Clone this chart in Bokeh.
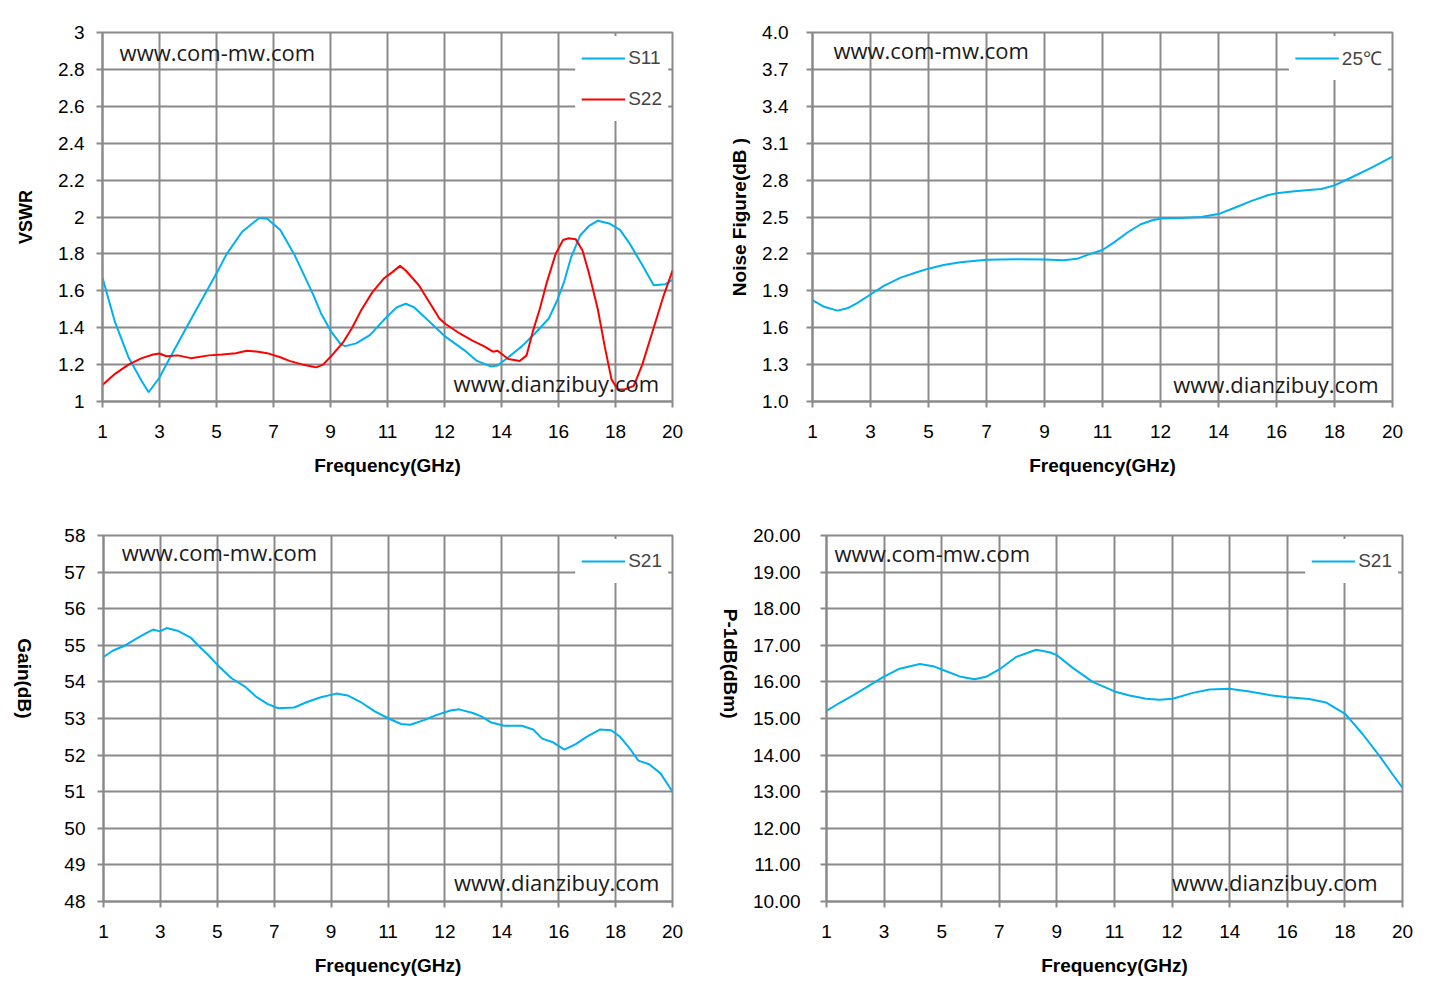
import math
from bokeh.plotting import figure
from bokeh.layouts import column, row
from bokeh.models import FixedTicker, Label, Legend, LegendItem, NumeralTickFormatter
from bokeh.embed import file_html
from bokeh.resources import INLINE

# ---------------- data ----------------
FREQ_LABELS = ["1", "3", "5", "7", "9", "11", "12", "14", "16", "18", "20"]

# x values are positions along the (equally spaced) frequency category axis
s11_x = [0, 0.22, 0.455, 0.69, 0.81, 1.0, 1.12, 1.47, 1.83, 2.01, 2.18, 2.45, 2.75, 2.89, 3.12,
         3.36, 3.59, 3.71, 3.83, 4.01, 4.18, 4.26, 4.45, 4.69, 4.93, 5.16, 5.32, 5.47, 5.71,
         6.02, 6.34, 6.57, 6.81, 6.93, 7.12, 7.36, 7.59, 7.83, 7.98, 8.1, 8.22, 8.38, 8.53,
         8.69, 8.89, 9.08, 9.24, 9.47, 9.67, 9.87, 10.0]
s11_y = [1.67, 1.43, 1.24, 1.11, 1.05, 1.13, 1.2, 1.4, 1.6, 1.7, 1.8, 1.92, 1.995, 1.99, 1.93,
         1.8, 1.65, 1.57, 1.48, 1.38, 1.31, 1.30, 1.315, 1.36, 1.44, 1.51, 1.53, 1.51, 1.44,
         1.35, 1.28, 1.22, 1.19, 1.195, 1.24, 1.3, 1.37, 1.45, 1.55, 1.65, 1.78, 1.9, 1.95,
         1.98, 1.965, 1.93, 1.86, 1.74, 1.63, 1.635, 1.66]

s22_x = [0, 0.22, 0.455, 0.69, 0.89, 1.0, 1.12, 1.32, 1.55, 1.87, 2.1, 2.34, 2.53, 2.73, 2.89,
         3.12, 3.28, 3.51, 3.67, 3.75, 3.87, 4.01, 4.22, 4.38, 4.53, 4.73, 4.93, 5.08, 5.22,
         5.32, 5.55, 5.71, 5.91, 6.02, 6.26, 6.49, 6.69, 6.85, 6.93, 7.12, 7.32, 7.44, 7.55,
         7.67, 7.79, 7.95, 8.08, 8.18, 8.3, 8.42, 8.53, 8.69, 8.81, 8.93, 9.04, 9.16, 9.32,
         9.47, 9.67, 9.83, 10.0]
s22_y = [1.09, 1.15, 1.2, 1.235, 1.255, 1.26, 1.245, 1.25, 1.235, 1.25, 1.255, 1.262, 1.275,
         1.27, 1.262, 1.24, 1.22, 1.2, 1.19, 1.185, 1.2, 1.245, 1.32, 1.4, 1.49, 1.59, 1.665,
         1.7, 1.735, 1.71, 1.63, 1.55, 1.45, 1.42, 1.37, 1.33, 1.3, 1.27, 1.275, 1.23, 1.22,
         1.25, 1.38, 1.5, 1.64, 1.8, 1.875, 1.885, 1.88, 1.82, 1.7, 1.5, 1.3, 1.12, 1.065,
         1.065, 1.085, 1.2, 1.4, 1.56, 1.71]

nf_x = [0, 0.2, 0.43, 0.6, 0.77, 1.0, 1.23, 1.52, 1.81, 2.0, 2.26, 2.55, 3.0, 3.53, 4.0, 4.33,
        4.56, 4.79, 5.0, 5.2, 5.43, 5.66, 5.86, 6.01, 6.35, 6.7, 7.02, 7.28, 7.56, 7.85, 8.0,
        8.31, 8.77, 9.0, 9.29, 9.64, 10.0]
nf_y = [1.825, 1.77, 1.739, 1.758, 1.80, 1.87, 1.94, 2.007, 2.053, 2.08, 2.109, 2.133, 2.152,
        2.157, 2.154, 2.149, 2.16, 2.2, 2.232, 2.294, 2.374, 2.441, 2.473, 2.487, 2.492, 2.5,
        2.527, 2.575, 2.629, 2.677, 2.693, 2.709, 2.728, 2.757, 2.821, 2.902, 2.99]

gain_x = [0, 0.16, 0.36, 0.6, 0.75, 0.87, 0.99, 1.11, 1.3, 1.54, 1.66, 1.85, 2.01, 2.25, 2.48,
          2.68, 2.88, 3.07, 3.35, 3.58, 3.82, 4.09, 4.29, 4.52, 4.76, 5.01, 5.23, 5.39, 5.62,
          5.86, 6.1, 6.25, 6.49, 6.65, 6.8, 7.04, 7.35, 7.55, 7.71, 7.9, 8.1, 8.3, 8.49, 8.73,
          8.92, 9.08, 9.24, 9.4, 9.59, 9.79, 10.0]
gain_y = [54.68, 54.85, 54.98, 55.2, 55.33, 55.43, 55.38, 55.47, 55.4, 55.2, 55.0, 54.72, 54.45,
          54.1, 53.88, 53.6, 53.4, 53.28, 53.3, 53.45, 53.58, 53.68, 53.63, 53.45, 53.2, 53.0,
          52.85, 52.83, 52.95, 53.1, 53.22, 53.25, 53.15, 53.05, 52.9, 52.8, 52.8, 52.7, 52.45,
          52.35, 52.15, 52.3, 52.5, 52.7, 52.68, 52.5, 52.2, 51.85, 51.75, 51.5, 51.0]

p1_x = [0, 0.23, 0.46, 0.69, 0.99, 1.27, 1.62, 1.85, 2.0, 2.31, 2.57, 2.77, 3.0, 3.29, 3.64,
        3.87, 4.0, 4.27, 4.62, 5.0, 5.26, 5.55, 5.78, 6.01, 6.36, 6.65, 6.99, 7.34, 7.69, 8.01,
        8.38, 8.67, 9.01, 9.31, 9.6, 9.83, 10.0]
p1_y = [15.21, 15.43, 15.63, 15.85, 16.14, 16.36, 16.49, 16.43, 16.34, 16.15, 16.07, 16.14,
        16.34, 16.68, 16.88, 16.81, 16.73, 16.39, 16.0, 15.74, 15.63, 15.54, 15.51, 15.54,
        15.70, 15.79, 15.81, 15.74, 15.64, 15.58, 15.53, 15.44, 15.12, 14.57, 13.98, 13.47,
        13.11]

VSWR_TICKS = [1.0, 1.2, 1.4, 1.6, 1.8, 2.0, 2.2, 2.4, 2.6, 2.8, 3.0]
NF_TICKS = [1.0, 1.3, 1.6, 1.9, 2.2, 2.5, 2.8, 3.1, 3.4, 3.7, 4.0]
GAIN_TICKS = [48, 49, 50, 51, 52, 53, 54, 55, 56, 57, 58]
P1_TICKS = [10, 11, 12, 13, 14, 15, 16, 17, 18, 19, 20]

# ---------------- style ----------------
BLUE = "#00B0F0"
RED = "#FF0000"
GRID = "#8a8a8a"
TICKFONT = "Liberation Sans"
WM_FONT = "Open Sans"


def make_fig(w, h, left, right, top, bottom, yticks, yfmt, ylabel, ylabel_size,
             ylabel_standoff, ylabel_angle, ylab_standoff):
    p = figure(width=w, height=h, output_backend="svg", toolbar_location=None,
               x_range=(0, 10), y_range=(yticks[0], yticks[-1]),
               min_border_left=left, min_border_right=right,
               min_border_top=top, min_border_bottom=bottom)
    p.background_fill_color = "white"
    p.border_fill_color = "white"
    p.outline_line_color = GRID
    p.outline_line_width = 2

    xa = p.xaxis[0]
    xa.ticker = FixedTicker(ticks=list(range(len(FREQ_LABELS))))
    xa.major_label_overrides = {i: lab for i, lab in enumerate(FREQ_LABELS)}
    xa.axis_label = "Frequency(GHz)"
    xa.axis_label_text_font = TICKFONT
    xa.axis_label_text_font_style = "bold"
    xa.axis_label_text_font_size = "19px"
    xa.axis_label_standoff = 14
    xa.major_label_standoff = 17

    ya = p.yaxis[0]
    ya.ticker = FixedTicker(ticks=yticks)
    ya.formatter = NumeralTickFormatter(format=yfmt)
    ya.axis_label = ylabel
    ya.axis_label_text_font = "Liberation Sans"
    ya.axis_label_text_font_style = "bold"
    ya.axis_label_text_font_size = ylabel_size
    ya.axis_label_standoff = ylabel_standoff
    ya.major_label_standoff = ylab_standoff
    if ylabel_angle is not None:
        ya.axis_label_orientation = ylabel_angle

    for ax in (xa, ya):
        ax.axis_line_color = GRID
        ax.axis_line_width = 2
        ax.major_tick_line_color = GRID
        ax.major_tick_line_width = 2
        ax.major_tick_out = 6
        ax.major_tick_in = 0
        ax.minor_tick_line_color = None
        ax.major_label_text_font = TICKFONT
        ax.major_label_text_font_size = "19px"
        ax.major_label_text_color = "black"
        ax.axis_label_text_color = "black"

    p.xgrid.ticker = FixedTicker(ticks=list(range(len(FREQ_LABELS))))
    p.ygrid.ticker = FixedTicker(ticks=yticks)
    for g in (p.xgrid[0], p.ygrid[0]):
        g.grid_line_color = GRID
        g.grid_line_width = 2
    return p


def add_legend(p, items):
    leg = Legend(items=items, location="top_right")
    leg.margin = 4
    leg.padding = 6
    leg.spacing = 9
    leg.glyph_width = 44
    leg.glyph_height = 32
    leg.label_height = 32
    leg.label_standoff = 3
    leg.label_text_font = TICKFONT
    leg.label_text_font_size = "19px"
    leg.background_fill_color = "white"
    leg.background_fill_alpha = 1.0
    leg.border_line_alpha = 0
    p.add_layout(leg)


def add_marks(p, x1, y1, x2, y2):
    p.add_layout(Label(x=x1, y=y1, text="www.com-mw.com", text_font=WM_FONT,
                       text_font_size="22px", text_baseline="middle", text_color="#1a1a1a"))
    p.add_layout(Label(x=x2, y=y2, text="www.dianzibuy.com", text_font=WM_FONT,
                       text_font_size="22px", text_baseline="middle", text_color="#1a1a1a"))


# Top-left: VSWR
p1 = make_fig(715, 480, 102, 43, 32, 79, VSWR_TICKS, "0[.][0]", "VSWR", "18px", 19, None, 12)
r11 = p1.line(s11_x, s11_y, line_color=BLUE, line_width=2)
r22 = p1.line(s22_x, s22_y, line_color=RED, line_width=2)
add_marks(p1, 0.3, 2.897, 6.16, 1.098)
add_legend(p1, [LegendItem(label="S11", renderers=[r11]), LegendItem(label="S22", renderers=[r22])])

# Top-right: Noise figure
p2 = make_fig(712, 480, 97, 35, 30, 79, NF_TICKS, "0.0", "Noise Figure(dB )", "19px", 9, None, 18)
rnf = p2.line(nf_x, nf_y, line_color=BLUE, line_width=2)
add_marks(p2, 0.36, 3.854, 6.22, 1.146)
add_legend(p2, [LegendItem(label="25℃", renderers=[rnf])])

# Bottom-left: Gain
p3 = make_fig(706, 508, 102, 34, 55, 87, GAIN_TICKS, "0", "Gain(dB)", "19px", 37, -math.pi / 2, 12)
rg = p3.line(gain_x, gain_y, line_color=BLUE, line_width=2)
add_marks(p3, 0.32, 57.54, 6.16, 48.52)
add_legend(p3, [LegendItem(label="S21", renderers=[rg])])

# Bottom-right: P-1dB
p4 = make_fig(721, 508, 120, 25, 55, 87, P1_TICKS, "0.00", "P-1dB(dBm)", "19px", 19, -math.pi / 2, 20)
rp = p4.line(p1_x, p1_y, line_color=BLUE, line_width=2)
add_marks(p4, 0.14, 19.51, 6.0, 10.52)
add_legend(p4, [LegendItem(label="S21", renderers=[rp])])

layout = column(row(p1, p2), row(p3, p4))
open("out.html", "w").write(file_html(layout, INLINE))
